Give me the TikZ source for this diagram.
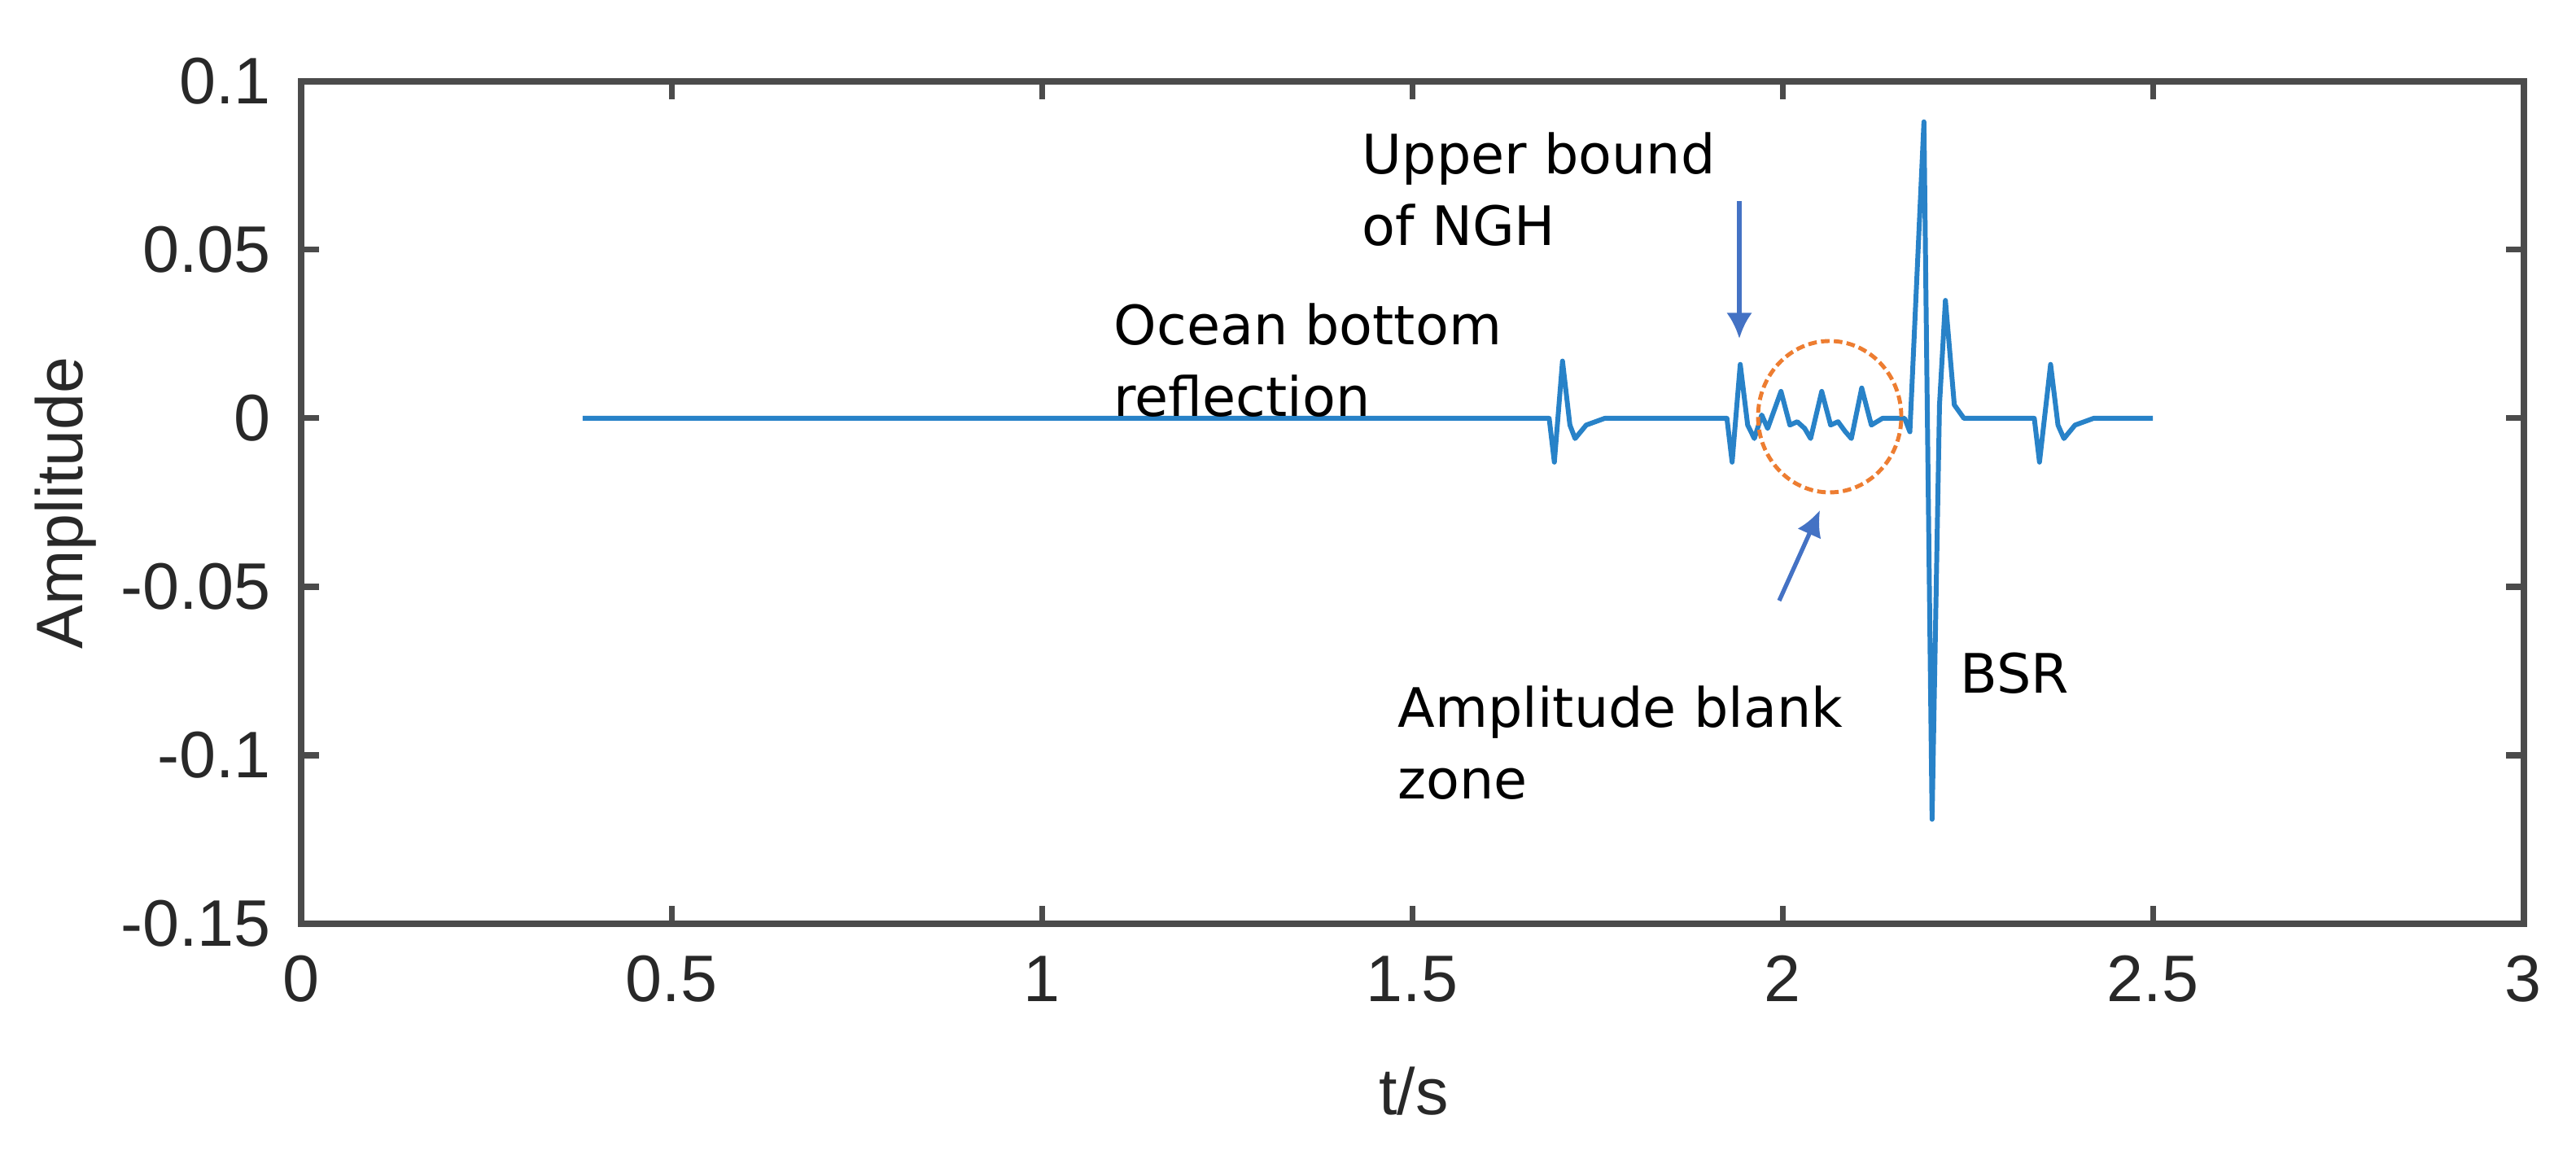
\documentclass[tikz,border=0pt]{standalone}
\usepackage{fontspec}
\setmainfont{Liberation Sans}
\newfontfamily\annfont{DejaVu Sans}
\usetikzlibrary{arrows.meta}
\begin{document}
\begin{tikzpicture}[x=1cm,y=1cm,
  axis/.style={line width=2.4pt,draw={rgb,255:red,75;green,75;blue,75}},
  tick/.style={line width=2pt,draw={rgb,255:red,75;green,75;blue,75}},
  ticklab/.style={font=\fontsize{23}{27}\selectfont,text={rgb,255:red,40;green,40;blue,40}},
  ann/.style={font=\annfont\fontsize{19}{25}\selectfont,align=left,anchor=west,inner sep=0pt},
  sig/.style={line width=1.7pt,draw={rgb,255:red,40;green,130;blue,200},line join=round},
  arr/.style={line width=1.5pt,draw={rgb,255:red,68;green,114;blue,196},-{Latex[length=9pt,width=9pt]}}]
\useasboundingbox (0,0) rectangle (31.65,14.24);
% frame
\draw[axis] (3.70,2.89) rectangle (31.01,13.24);
\foreach \t/\l in {0/0,0.5/0.5,1/1,1.5/1.5,2/2,2.5/2.5,3/3}{
  \pgfmathsetmacro\xx{3.70+9.10*\t}
  \draw[tick] (\xx,2.89) -- ++(0,0.22);
  \draw[tick] (\xx,13.24) -- ++(0,-0.22);
  \node[ticklab,anchor=north] (xt\l) at (\xx,2.62) {\l};
}
\foreach \a/\l in {0.1/0.1,0.05/0.05,0/0,-0.05/-0.05,-0.1/-0.1,-0.15/-0.15}{
  \pgfmathsetmacro\yy{9.10+41.4*\a}
  \draw[tick] (3.70,\yy) -- ++(0.22,0);
  \draw[tick] (31.01,\yy) -- ++(-0.22,0);
  \node[ticklab,anchor=east] (yt\l) at (3.45,\yy) {\l};
}
\node[ticklab] (xl) at (17.37,0.83) {t/s};
\node[ticklab,rotate=90] (yl) at (0.81,8.06) {Amplitude};
% signal
\begin{scope}[shift={(3.70,9.10)},xscale=9.10,yscale=41.4]
\draw[sig] (0.38,0) -- (1.685,0) -- (1.692,-0.013) -- (1.703,0.017) -- (1.713,-0.002) -- (1.72,-0.006) -- (1.735,-0.002) -- (1.76,0) -- (1.925,0)
 -- (1.932,-0.013) -- (1.943,0.016) -- (1.953,-0.002) -- (1.962,-0.006) -- (1.972,0.001) -- (1.98,-0.003) -- (1.998,0.008) -- (2.01,-0.002) -- (2.02,-0.001) -- (2.03,-0.003) -- (2.038,-0.006) -- (2.053,0.008) -- (2.065,-0.002) -- (2.075,-0.001) -- (2.085,-0.004) -- (2.093,-0.006) -- (2.107,0.009) -- (2.12,-0.002) -- (2.135,0) -- (2.165,0) -- (2.172,-0.004)
 -- (2.191,0.088) -- (2.202,-0.119) -- (2.212,0.004) -- (2.22,0.035) -- (2.232,0.004) -- (2.245,0) -- (2.34,0) -- (2.347,-0.013) -- (2.362,0.016) -- (2.372,-0.002) -- (2.38,-0.006) -- (2.395,-0.002) -- (2.42,0) -- (2.5,0);
\end{scope}
% annotations
\node[ann,anchor=north west] (nghl) at (16.73,12.62) {Upper bound\\of NGH};
\node[ann,anchor=north west] (obr) at (13.68,10.52) {Ocean bottom\\reflection};
\node[ann,anchor=north west] (abz) at (17.17,5.82) {Amplitude blank\\zone};
\node[ann] (bsr) at (24.08,5.97) {BSR};
\draw[line width=1.4pt,draw={rgb,255:red,237;green,125;blue,49},dash pattern=on 3pt off 1.5pt] (22.48,9.12) ellipse (0.88 and 0.93);
\coordinate (a1s) at (21.37,11.77);
\coordinate (a1e) at (21.37,10.08);
\coordinate (a2s) at (21.86,6.86);
\coordinate (a2e) at (22.36,7.97);
\draw[arr] (a1s) -- (a1e);
\draw[arr] (a2s) -- (a2e);
\end{tikzpicture}
\end{document}
